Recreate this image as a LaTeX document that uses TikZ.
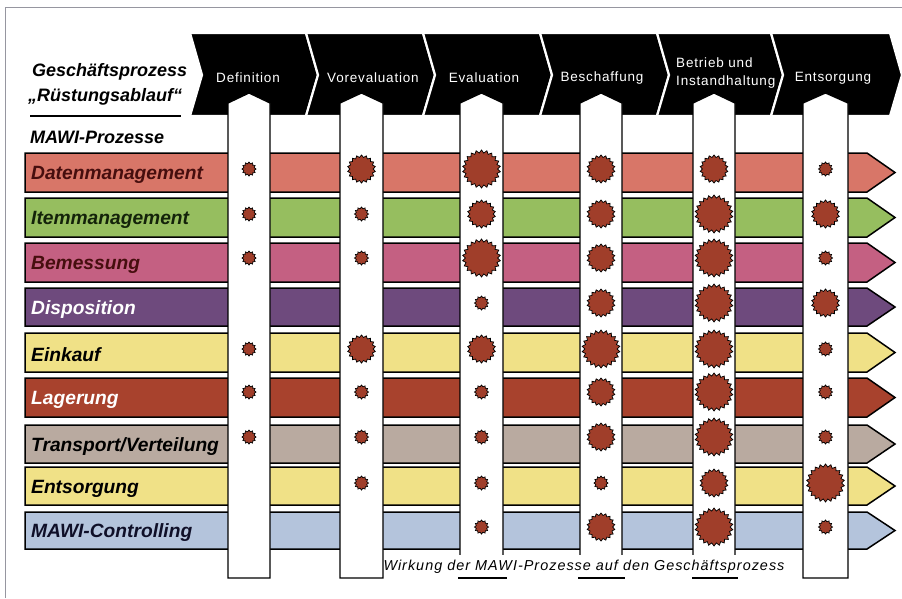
\documentclass[tikz,border=0pt]{standalone}
\usepackage{fontspec}
\setmainfont{Liberation Sans}
\newfontfamily\hdrfont[LetterSpace=6]{Liberation Sans}
\newfontfamily\capfont[LetterSpace=7]{Liberation Sans}
\usetikzlibrary{shapes.geometric}
\definecolor{cDaten}{RGB}{216,118,104}
\definecolor{cItem}{RGB}{150,190,95}
\definecolor{cBem}{RGB}{196,96,130}
\definecolor{cDisp}{RGB}{110,74,125}
\definecolor{cEink}{RGB}{240,225,135}
\definecolor{cLag}{RGB}{168,66,45}
\definecolor{cTrans}{RGB}{185,170,160}
\definecolor{cEnts}{RGB}{240,225,135}
\definecolor{cCtrl}{RGB}{180,196,220}
\definecolor{cBurst}{RGB}{160,62,42}
\definecolor{tMaroon}{RGB}{70,14,14}
\definecolor{tGreen}{RGB}{20,35,10}
\definecolor{tNavy}{RGB}{15,15,40}
\definecolor{cFrame}{RGB}{150,150,160}
\tikzset{
  band/.style={draw=black, line width=1.5pt},
  chev/.style={fill=black, draw=white, line width=2.2pt, line join=miter},
  colarrow/.style={fill=white, draw=black, line width=1.3pt},
  rowlabel/.style={anchor=west, inner sep=0pt, font=\fontsize{19.2}{21}\selectfont\bfseries\itshape},
  hdrlabel/.style={text=white, inner sep=0pt, align=left, font=\hdrfont\fontsize{13.5}{18}\selectfont},
  toplabel/.style={anchor=west, inner sep=0pt, font=\fontsize{18}{20}\selectfont\bfseries\itshape},
  burst/.style={star, draw=black, line width=0.7pt, fill=cBurst, inner sep=0pt},
  burstS/.style={burst, minimum size=14pt, star points=12, star point ratio=1.3},
  burstM/.style={burst, minimum size=28pt, star points=18, star point ratio=1.2},
  burstL/.style={burst, minimum size=38pt, star points=22, star point ratio=1.18},
}
\begin{document}
\begin{tikzpicture}[x=1pt,y=-1pt]
\useasboundingbox (0,0) rectangle (902,598);
\fill[white] (0,0) rectangle (902,598);
\draw[cFrame, line width=1pt] (5,598) -- (5,7) -- (902,7);

% chevron header
\foreach \a/\b in {190/306,306/423,423/540,540/657,657/771,771/890}{
  \draw[chev] (\a,33) -- (\b,33) -- (\b+12,75) -- (\b,116) -- (\a,116) -- (\a+12,75) -- cycle;
}
\node[hdrlabel] (h1) at (248,78) {Definition};
\node[hdrlabel] (h2) at (373,78) {Vorevaluation};
\node[hdrlabel] (h3) at (484,78) {Evaluation};
\node[hdrlabel] (h4) at (602,78) {Beschaffung};
\node[hdrlabel, anchor=west] (h5) at (676,73) {Betrieb und\\Instandhaltung};
\node[hdrlabel] (h6) at (833,78) {Entsorgung};

% left header
\node[toplabel] (gp) at (32,72) {Geschäftsprozess};
\node[toplabel] (ra) at (28,97) {„Rüstungsablauf“};
\draw[line width=1.2pt] (30,116) -- (181,116);
\node[toplabel] (mp) at (30,137) {MAWI-Prozesse};

% bands
\foreach \i/\lab/\col/\tc/\t/\b in {
  1/Datenmanagement/cDaten/tMaroon/153/192,
  2/Itemmanagement/cItem/tGreen/198/237,
  3/Bemessung/cBem/tMaroon/243/282,
  4/Disposition/cDisp/white/288/326,
  5/Einkauf/cEink/black/333/372,
  6/Lagerung/cLag/white/378/417,
  7/Transport\slash Verteilung/cTrans/black/425/463,
  8/Entsorgung/cEnts/black/467/505,
  9/MAWI-Controlling/cCtrl/tNavy/512/549}{
  \draw[band, fill=\col] (25,\t) -- (867,\t) -- (895,{(\t+\b)/2}) -- (867,\b) -- (25,\b) -- cycle;
  \node[rowlabel, text=\tc] (r\i) at (31,{(\t+\b)/2+2.5}) {\lab};
}

% middle columns (bottoms hidden by caption)
\foreach \l/\r in {460/503,580/622,693/735}{
  \draw[colarrow] (\l,578) -- (\l,103) -- ({(\l+\r)/2},93) -- (\r,103) -- (\r,578) -- cycle;
}
\node[fill=white, inner xsep=1pt, minimum height=25pt, font=\capfont\fontsize{14.4}{16}\selectfont\itshape] (wirk) at (584,567)
  {Wirkung der MAWI-Prozesse auf den Geschäftsprozess};
\foreach \l/\r in {458/507,578/625,692/738}{
  \draw[line width=1.3pt] (\l,578) -- (\r,578);
}
% outer columns
\foreach \l/\r in {228/270,340/383,803/848}{
  \draw[colarrow] (\l,578) -- (\l,103) -- ({(\l+\r)/2},93) -- (\r,103) -- (\r,578) -- cycle;
}

% starbursts
\def\colx{{249,361.5,481.5,601,714,825.5}}
\def\rowy{{169,214,258,303,349,392,437,483,527}}
\foreach \ci/\ri/\s in {
  1/1/S,1/2/S,1/3/S,1/5/S,1/6/S,1/7/S,
  2/1/M,2/2/S,2/3/S,2/5/M,2/6/S,2/7/S,2/8/S,
  3/1/L,3/2/M,3/3/L,3/4/S,3/5/M,3/6/S,3/7/S,3/8/S,3/9/S,
  4/1/M,4/2/M,4/3/M,4/4/M,4/5/L,4/6/M,4/7/M,4/8/S,4/9/M,
  5/1/M,5/2/L,5/3/L,5/4/L,5/5/L,5/6/L,5/7/L,5/8/M,5/9/L,
  6/1/S,6/2/M,6/3/S,6/4/M,6/5/S,6/6/S,6/7/S,6/8/L,6/9/S}{
  \pgfmathsetmacro\bx{\colx[\ci-1]}
  \pgfmathsetmacro\by{\rowy[\ri-1]}
  \node[burst\s] (b\ci-\ri) at (\bx,\by) {};
}
\end{tikzpicture}
\end{document}
